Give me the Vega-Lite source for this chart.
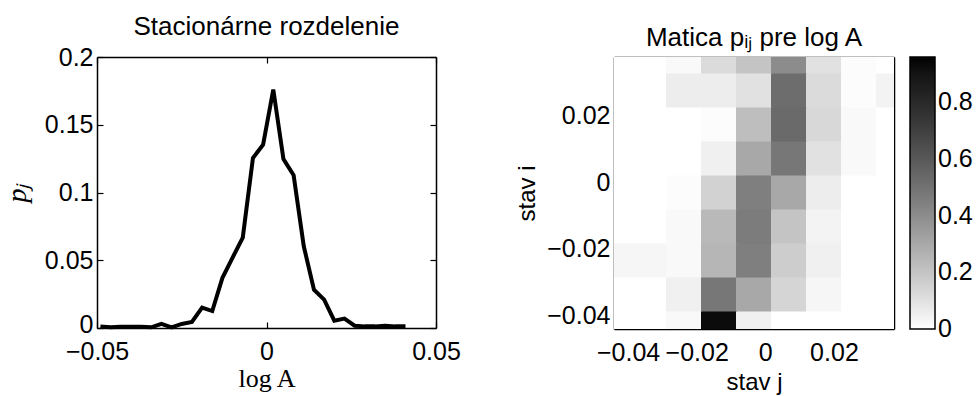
{
  "$schema": "https://vega.github.io/schema/vega-lite/v6.json",
  "background": "white",
  "padding": {"left": 3, "top": 14, "right": 5, "bottom": 5},
  "bounds": "flush",
  "spacing": 178,
  "config": {
    "view": {"stroke": null},
    "axis": {
      "labelFont": "Liberation Sans", "labelFontSize": 25, "labelColor": "black", "labelFlush": false,
      "domainColor": "black", "domainWidth": 1.5, "tickColor": "black", "tickWidth": 1.2,
      "tickSize": -6, "labelPadding": 10, "grid": false,
      "titleFontWeight": "normal", "titleColor": "black"
    },
    "axisX": {"labelPadding": 17},
    "title": {"font": "Liberation Sans", "fontSize": 26, "fontWeight": "normal", "color": "black", "offset": 5}
  },
  "hconcat": [
    {
      "width": 339, "height": 271,
      "title": {"text": "Stacionárne rozdelenie"},
      "data": {"values": [
        {"logA": -0.049, "p": 0.0012}, {"logA": -0.046, "p": 0.0005}, {"logA": -0.043, "p": 0.001},
        {"logA": -0.040, "p": 0.001}, {"logA": -0.037, "p": 0.001}, {"logA": -0.034, "p": 0.0005},
        {"logA": -0.031, "p": 0.003}, {"logA": -0.028, "p": 0.0005}, {"logA": -0.025, "p": 0.003},
        {"logA": -0.022, "p": 0.0045}, {"logA": -0.019, "p": 0.015}, {"logA": -0.016, "p": 0.0125},
        {"logA": -0.013, "p": 0.037}, {"logA": -0.010, "p": 0.052}, {"logA": -0.007, "p": 0.0667},
        {"logA": -0.004, "p": 0.1255}, {"logA": -0.001, "p": 0.1353}, {"logA": 0.002, "p": 0.176},
        {"logA": 0.005, "p": 0.1247}, {"logA": 0.008, "p": 0.1127}, {"logA": 0.011, "p": 0.0603},
        {"logA": 0.014, "p": 0.0283}, {"logA": 0.017, "p": 0.0209}, {"logA": 0.020, "p": 0.0054},
        {"logA": 0.023, "p": 0.0069}, {"logA": 0.026, "p": 0.0017}, {"logA": 0.029, "p": 0.0012},
        {"logA": 0.032, "p": 0.0012}, {"logA": 0.035, "p": 0.0017}, {"logA": 0.038, "p": 0.0012},
        {"logA": 0.041, "p": 0.0012}
      ]},
      "layer": [
        {
          "mark": {"type": "line", "color": "black", "strokeWidth": 4, "strokeJoin": "miter"},
          "encoding": {
            "x": {"field": "logA", "type": "quantitative",
              "scale": {"domain": [-0.05, 0.05], "nice": false, "zero": false},
              "axis": {"values": [-0.05, 0, 0.05], "format": "~g", "title": "log A",
                "titleFont": "Liberation Serif", "titleFontSize": 26, "titlePadding": 1}},
            "y": {"field": "p", "type": "quantitative",
              "scale": {"domain": [0, 0.2], "nice": false, "zero": false},
              "axis": {"values": [0, 0.05, 0.1, 0.15, 0.2], "format": "~g", "title": "pⱼ",
                "labelOffset": {"condition": {"test": "datum.value === 0", "value": -4}, "value": 0},
                "titleFont": "Liberation Serif", "titleFontStyle": "italic", "titleFontSize": 28, "titlePadding": 13}}
          }
        },
        {
          "mark": {"type": "line", "strokeOpacity": 0},
          "encoding": {
            "x": {"field": "logA", "type": "quantitative",
              "scale": {"domain": [-0.05, 0.05], "nice": false, "zero": false},
              "axis": {"orient": "top", "values": [-0.05, 0, 0.05], "labels": false, "title": null}},
            "y": {"field": "p", "type": "quantitative",
              "scale": {"domain": [0, 0.2], "nice": false, "zero": false},
              "axis": {"orient": "right", "values": [0, 0.05, 0.1, 0.15, 0.2], "labels": false, "title": null}}
          }
        }
      ],
      "resolve": {"axis": {"x": "independent", "y": "independent"}}
    },
    {
      "width": 280, "height": 272,
      "title": {"text": "Matica pᵢⱼ pre log A"},
      "data": {"values": [
        {"i": 0.0375, "j": -0.0441, "p": 0}, {"i": 0.0375, "j": -0.0339, "p": 0}, {"i": 0.0375, "j": -0.0237, "p": 0.02},
        {"i": 0.0375, "j": -0.0135, "p": 0.12}, {"i": 0.0375, "j": -0.0033, "p": 0.2}, {"i": 0.0375, "j": 0.0069, "p": 0.4},
        {"i": 0.0375, "j": 0.0171, "p": 0.1}, {"i": 0.0375, "j": 0.0273, "p": 0.01}, {"i": 0.0375, "j": 0.0375, "p": 0},

        {"i": 0.0273, "j": -0.0441, "p": 0}, {"i": 0.0273, "j": -0.0339, "p": 0}, {"i": 0.0273, "j": -0.0237, "p": 0.06},
        {"i": 0.0273, "j": -0.0135, "p": 0.06}, {"i": 0.0273, "j": -0.0033, "p": 0.1}, {"i": 0.0273, "j": 0.0069, "p": 0.52},
        {"i": 0.0273, "j": 0.0171, "p": 0.12}, {"i": 0.0273, "j": 0.0273, "p": 0.01}, {"i": 0.0273, "j": 0.0375, "p": 0.04},

        {"i": 0.0171, "j": -0.0441, "p": 0}, {"i": 0.0171, "j": -0.0339, "p": 0}, {"i": 0.0171, "j": -0.0237, "p": 0},
        {"i": 0.0171, "j": -0.0135, "p": 0.01}, {"i": 0.0171, "j": -0.0033, "p": 0.22}, {"i": 0.0171, "j": 0.0069, "p": 0.53},
        {"i": 0.0171, "j": 0.0171, "p": 0.13}, {"i": 0.0171, "j": 0.0273, "p": 0.02}, {"i": 0.0171, "j": 0.0375, "p": 0},

        {"i": 0.0069, "j": -0.0441, "p": 0}, {"i": 0.0069, "j": -0.0339, "p": 0}, {"i": 0.0069, "j": -0.0237, "p": 0},
        {"i": 0.0069, "j": -0.0135, "p": 0.05}, {"i": 0.0069, "j": -0.0033, "p": 0.3}, {"i": 0.0069, "j": 0.0069, "p": 0.48},
        {"i": 0.0069, "j": 0.0171, "p": 0.1}, {"i": 0.0069, "j": 0.0273, "p": 0.02}, {"i": 0.0069, "j": 0.0375, "p": 0},

        {"i": -0.0033, "j": -0.0441, "p": 0}, {"i": -0.0033, "j": -0.0339, "p": 0}, {"i": -0.0033, "j": -0.0237, "p": 0.01},
        {"i": -0.0033, "j": -0.0135, "p": 0.15}, {"i": -0.0033, "j": -0.0033, "p": 0.45}, {"i": -0.0033, "j": 0.0069, "p": 0.3},
        {"i": -0.0033, "j": 0.0171, "p": 0.06}, {"i": -0.0033, "j": 0.0273, "p": 0}, {"i": -0.0033, "j": 0.0375, "p": 0},

        {"i": -0.0135, "j": -0.0441, "p": 0}, {"i": -0.0135, "j": -0.0339, "p": 0}, {"i": -0.0135, "j": -0.0237, "p": 0.02},
        {"i": -0.0135, "j": -0.0135, "p": 0.24}, {"i": -0.0135, "j": -0.0033, "p": 0.46}, {"i": -0.0135, "j": 0.0069, "p": 0.2},
        {"i": -0.0135, "j": 0.0171, "p": 0.04}, {"i": -0.0135, "j": 0.0273, "p": 0}, {"i": -0.0135, "j": 0.0375, "p": 0},

        {"i": -0.0237, "j": -0.0441, "p": 0.03}, {"i": -0.0237, "j": -0.0339, "p": 0.03}, {"i": -0.0237, "j": -0.0237, "p": 0.02},
        {"i": -0.0237, "j": -0.0135, "p": 0.25}, {"i": -0.0237, "j": -0.0033, "p": 0.45}, {"i": -0.0237, "j": 0.0069, "p": 0.17},
        {"i": -0.0237, "j": 0.0171, "p": 0.05}, {"i": -0.0237, "j": 0.0273, "p": 0}, {"i": -0.0237, "j": 0.0375, "p": 0},

        {"i": -0.0339, "j": -0.0441, "p": 0}, {"i": -0.0339, "j": -0.0339, "p": 0}, {"i": -0.0339, "j": -0.0237, "p": 0.05},
        {"i": -0.0339, "j": -0.0135, "p": 0.48}, {"i": -0.0339, "j": -0.0033, "p": 0.3}, {"i": -0.0339, "j": 0.0069, "p": 0.14},
        {"i": -0.0339, "j": 0.0171, "p": 0.03}, {"i": -0.0339, "j": 0.0273, "p": 0}, {"i": -0.0339, "j": 0.0375, "p": 0},

        {"i": -0.0441, "j": -0.0441, "p": 0}, {"i": -0.0441, "j": -0.0339, "p": 0}, {"i": -0.0441, "j": -0.0237, "p": 0.02},
        {"i": -0.0441, "j": -0.0135, "p": 0.93}, {"i": -0.0441, "j": -0.0033, "p": 0.05}, {"i": -0.0441, "j": 0.0069, "p": 0},
        {"i": -0.0441, "j": 0.0171, "p": 0}, {"i": -0.0441, "j": 0.0273, "p": 0}, {"i": -0.0441, "j": 0.0375, "p": 0}
      ]},
      "layer": [
        {
          "mark": {"type": "rect", "width": 36, "height": 35, "clip": true},
          "encoding": {
            "x": {"field": "j", "type": "quantitative",
              "scale": {"domain": [-0.0441, 0.0375], "nice": false, "zero": false},
              "axis": {"values": [-0.04, -0.02, 0, 0.02], "format": "~g", "title": "stav j",
                "titleFont": "Liberation Sans", "titleFontSize": 24, "titlePadding": 5}},
            "y": {"field": "i", "type": "quantitative",
              "scale": {"domain": [-0.0441, 0.0375], "nice": false, "zero": false},
              "axis": {"values": [-0.04, -0.02, 0, 0.02], "format": "~g", "title": "stav i",
                "titleFont": "Liberation Sans", "titleFontSize": 24, "titlePadding": 7}},
            "color": {"field": "p", "type": "quantitative",
              "scale": {"domain": [0, 0.96], "range": ["#ffffff", "#000000"]},
              "legend": {"title": null, "direction": "vertical", "orient": "right", "offset": 15,
                "gradientLength": 272, "gradientThickness": 25,
                "gradientStrokeColor": "black", "gradientStrokeWidth": 1.5,
                "values": [0, 0.2, 0.4, 0.6, 0.8], "format": "~g",
                "labelFont": "Liberation Sans", "labelFontSize": 25, "labelColor": "black", "labelOffset": 3,
                "encode": {"labels": {"update": {"baseline": {"value": "middle"}}}}}}
          }
        },
        {
          "mark": {"type": "rect", "opacity": 0},
          "encoding": {
            "x": {"field": "j", "type": "quantitative",
              "scale": {"domain": [-0.0441, 0.0375], "nice": false, "zero": false},
              "axis": {"orient": "top", "values": [-0.04, -0.02, 0, 0.02], "labels": false, "title": null}},
            "y": {"field": "i", "type": "quantitative",
              "scale": {"domain": [-0.0441, 0.0375], "nice": false, "zero": false},
              "axis": {"orient": "right", "values": [-0.04, -0.02, 0, 0.02], "labels": false, "title": null}}
          }
        }
      ],
      "resolve": {"axis": {"x": "independent", "y": "independent"}}
    }
  ]
}
